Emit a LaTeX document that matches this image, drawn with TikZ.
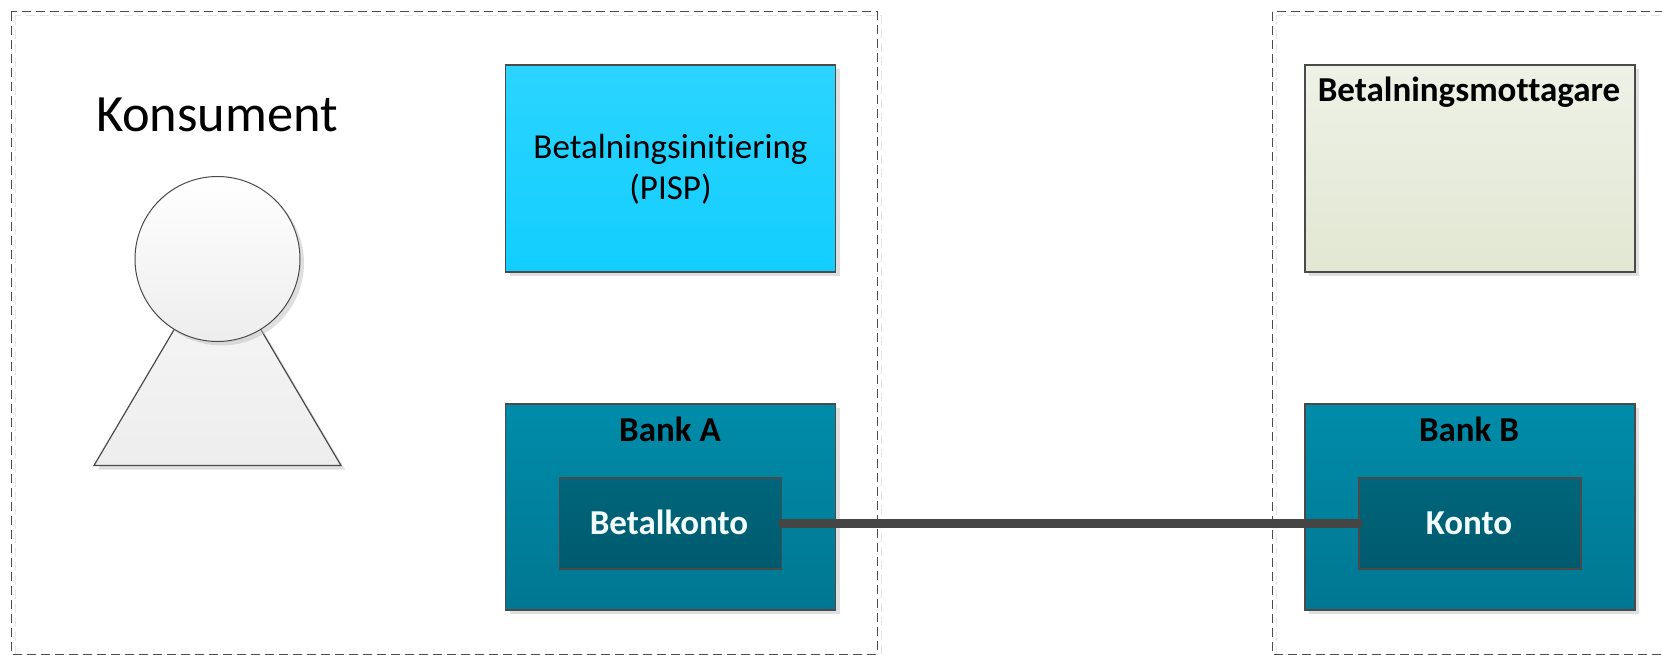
\documentclass[tikz,border=0pt]{standalone}
\usepackage{fontspec}
\setmainfont[Ligatures=NoCommon]{Carlito}
\usetikzlibrary{shadows}
\definecolor{edgec}{HTML}{4A4A4A}
\definecolor{linec}{HTML}{454545}
\tikzset{
  softshadow/.style={drop shadow={shadow xshift=4pt,shadow yshift=-4pt,fill=black!25,opacity=.5}},
  panel/.style={rectangle,draw=edgec,line width=1.2pt,inner sep=0pt},
  pisp/.style={panel,softshadow,top color=cyan1,bottom color=cyan2,minimum width=330pt,minimum height=207pt},
  payee/.style={panel,softshadow,top color=green1,bottom color=green2,minimum width=330pt,minimum height=207pt},
  bank/.style={panel,softshadow,top color=teal1,bottom color=teal2,minimum width=330pt,minimum height=206pt},
  account/.style={panel,top color=deep1,bottom color=deep2,minimum width=222pt,minimum height=91pt},
  zone/.style={draw=black!70,line width=1pt,dash pattern=on 9pt off 5pt},
  zoneghost/.style={draw=black!10,line width=1pt,dash pattern=on 9pt off 5pt},
  plain/.style={font=\fontsize{35}{41}\selectfont,text=black,align=center,inner sep=0pt},
  heading/.style={font=\fontsize{35}{41}\selectfont\bfseries,text=black,inner sep=0pt,anchor=base},
  whitehead/.style={font=\fontsize{35}{41}\selectfont\bfseries,text=white!95!cyan,inner sep=0pt,anchor=base},
  link/.style={draw=linec,line width=8.5pt,line cap=round},
}
\definecolor{cyan1}{HTML}{2BD4FF}
\definecolor{cyan2}{HTML}{12CEFF}
\definecolor{green1}{HTML}{EEF1E6}
\definecolor{green2}{HTML}{E2E7D2}
\definecolor{teal1}{HTML}{008CA9}
\definecolor{teal2}{HTML}{007792}
\definecolor{deep1}{HTML}{00667B}
\definecolor{deep2}{HTML}{005A6E}
\begin{document}
\begin{tikzpicture}[x=1pt,y=-1pt]
\useasboundingbox (0,0) rectangle (1662,655);
\clip (0,0) rectangle (1662,655);
% zones
\draw[zoneghost] (15,16) rectangle (881,658);
\draw[zoneghost] (1276,16) rectangle (1680,658);
\draw[zone] (11,12) rectangle (877,654);
\draw[zone] (1272,12) rectangle (1680,654);
% person
\coordinate (apex) at (217.5,256);
\coordinate (baseL) at (94,465.5);
\coordinate (baseR) at (341,465.5);
\draw[edgec,line width=1.2pt,top color=white!97!black,bottom color=white!93!black,softshadow] (apex) -- (baseL) -- (baseR) -- cycle;
\node[circle,draw=edgec,line width=1pt,minimum size=165pt,inner sep=0pt,top color=white,bottom color=white!93!black,softshadow] (head) at (217.5,259) {};
\node[font=\fontsize{52.4}{60}\selectfont,inner sep=0pt,anchor=base] (konsument) at (217,132) {Konsument};
% boxes
\node[pisp] (pispbox) at (670.5,168.5) {};
\node[plain] (pisptext) at (670.5,169.5) {Betalningsinitiering\\(PISP)};
\node[payee] (payeebox) at (1470,168.5) {};
\node[heading] (payeetext) at (1469,102) {Betalningsmottagare};
\node[bank] (banka) at (670.5,507) {};
\node[heading] (bankatext) at (670,441) {Bank A};
\node[account] (betal) at (670.5,523.5) {};
\node[whitehead] (betaltext) at (669,534) {Betalkonto};
\node[bank] (bankb) at (1470,507) {};
\node[heading] (bankbtext) at (1469,441) {Bank B};
\node[account] (konto) at (1470,523.5) {};
\node[whitehead] (kontotext) at (1469,534) {Konto};
% connector
\draw[link] (betal.east) -- (konto.west);
\end{tikzpicture}
\end{document}
